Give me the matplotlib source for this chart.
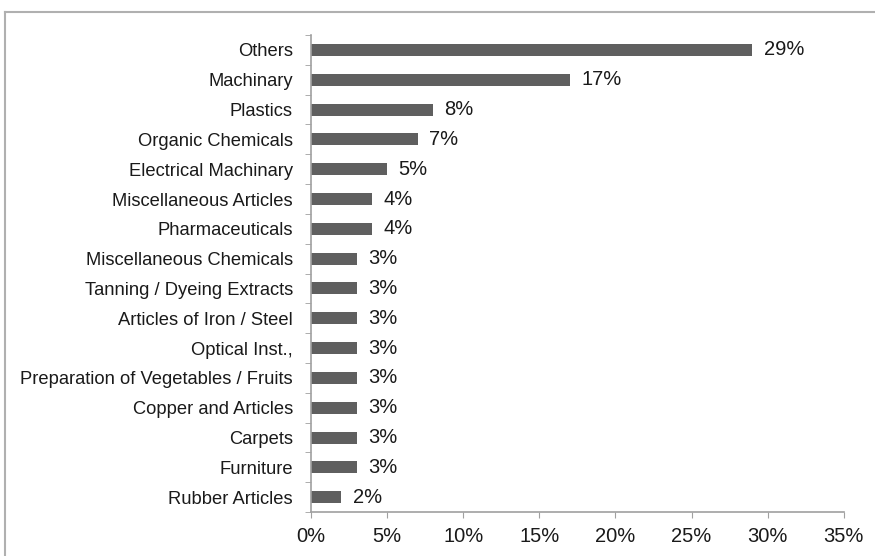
import matplotlib
matplotlib.use("Agg")
from matplotlib import pyplot as plt
from matplotlib.lines import Line2D
from matplotlib.ticker import FuncFormatter, FixedLocator

categories = ["Others", "Machinary", "Plastics", "Organic Chemicals", "Electrical Machinary",
              "Miscellaneous Articles", "Pharmaceuticals", "Miscellaneous Chemicals",
              "Tanning / Dyeing Extracts", "Articles of Iron / Steel", "Optical Inst.,",
              "Preparation of Vegetables / Fruits", "Copper and Articles", "Carpets",
              "Furniture", "Rubber Articles"]
shares = [29, 17, 8, 7, 5, 4, 4, 3, 3, 3, 3, 3, 3, 3, 3, 2]

plt.rcParams['font.family'] = ['Liberation Sans', 'DejaVu Sans']

fig = plt.figure(figsize=(8.75, 5.56), dpi=100)
ax = fig.add_axes([0.3554, 0.079, 0.609, 0.858])

n = len(categories)
ypos = list(range(n))[::-1]
ax.barh(ypos, shares, height=0.4, color='#5f5f5f')
for y, v in zip(ypos, shares):
    ax.text(v + 0.75, y, f"{v}%", va='center', ha='left', fontsize=14.5, color='#1a1a1a')

ax.set_xlim(0, 35)
ax.set_ylim(-0.5, n - 0.5)
ax.set_xticks(range(0, 36, 5))
ax.xaxis.set_major_formatter(FuncFormatter(lambda x, p: f"{int(x)}%"))
ax.set_yticks(ypos)
ax.set_yticklabels(categories, fontsize=13.2, color='#1a1a1a')
ax.yaxis.set_minor_locator(FixedLocator([i - 0.5 for i in range(n + 1)]))
ax.tick_params(axis='y', which='major', length=0, pad=13)
ax.tick_params(axis='y', which='minor', length=4, color='#a0a0a0')
ax.tick_params(axis='x', length=4, color='#a0a0a0', labelsize=14.5, labelcolor='#1a1a1a', pad=7)

for s in ['top', 'right']:
    ax.spines[s].set_visible(False)
for s in ['left', 'bottom']:
    ax.spines[s].set_color('#a0a0a0')
    ax.spines[s].set_linewidth(1.2)

# outer frame (left and top edges)
fig.add_artist(Line2D([0.006, 0.006], [0, 0.979], transform=fig.transFigure, color='#b0b0b0', lw=1.5))
fig.add_artist(Line2D([0.006, 1.0], [0.979, 0.979], transform=fig.transFigure, color='#b0b0b0', lw=1.5))

fig.savefig("out.png", dpi=100)
